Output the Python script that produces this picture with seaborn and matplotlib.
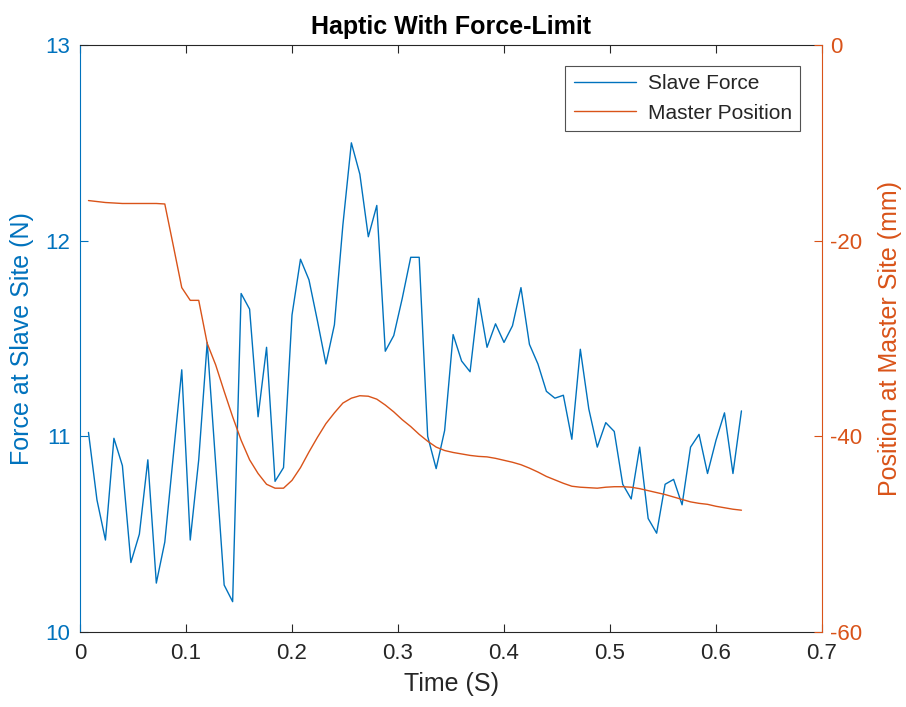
import matplotlib
matplotlib.use("Agg")
import matplotlib.pyplot as plt
import seaborn as sns
import pandas as pd

# Sample times (s)
time_s = [
    0.008, 0.016, 0.024, 0.032, 0.040, 0.048, 0.056, 0.064, 0.072, 0.080,
    0.088, 0.096, 0.104, 0.112, 0.120, 0.128, 0.136, 0.144, 0.152, 0.160,
    0.168, 0.176, 0.184, 0.192, 0.200, 0.208, 0.216, 0.224, 0.232, 0.240,
    0.248, 0.256, 0.264, 0.272, 0.280, 0.288, 0.296, 0.304, 0.312, 0.320,
    0.328, 0.336, 0.344, 0.352, 0.360, 0.368, 0.376, 0.384, 0.392, 0.400,
    0.408, 0.416, 0.424, 0.432, 0.440, 0.448, 0.456, 0.464, 0.472, 0.480,
    0.488, 0.496, 0.504, 0.512, 0.520, 0.528, 0.536, 0.544, 0.552, 0.560,
    0.568, 0.576, 0.584, 0.592, 0.600, 0.608, 0.616, 0.624,
]

# Force measured at the slave site (N)
slave_force = [
    11.02, 10.675, 10.47, 10.99, 10.85, 10.355, 10.50, 10.88, 10.25, 10.46,
    10.90, 11.34, 10.47, 10.88, 11.48, 10.86, 10.24, 10.155, 11.73, 11.65,
    11.10, 11.455, 10.77, 10.84, 11.62, 11.905, 11.80, 11.59, 11.37, 11.57,
    12.08, 12.50, 12.34, 12.02, 12.18, 11.435, 11.515, 11.705, 11.915, 11.915,
    11.00, 10.835, 11.03, 11.52, 11.385, 11.33, 11.705, 11.455, 11.575, 11.48,
    11.565, 11.76, 11.47, 11.37, 11.23, 11.195, 11.21, 10.985, 11.445, 11.14,
    10.945, 11.07, 11.025, 10.755, 10.68, 10.945, 10.58, 10.505, 10.755, 10.78,
    10.65, 10.945, 11.01, 10.81, 10.98, 11.12, 10.81, 11.13,
]

# Position of the master device (mm)
master_position = [
    -15.9, -16.0, -16.1, -16.15, -16.2, -16.2, -16.2, -16.2, -16.2, -16.25,
    -20.5, -24.8, -26.1, -26.1, -30.5, -32.7, -35.4, -38.0, -40.4, -42.4,
    -43.8, -44.9, -45.3, -45.3, -44.5, -43.2, -41.6, -40.1, -38.7, -37.6,
    -36.6, -36.1, -35.85, -35.9, -36.2, -36.8, -37.5, -38.3, -39.0, -39.8,
    -40.5, -41.1, -41.45, -41.65, -41.8, -41.95, -42.05, -42.1, -42.25, -42.45,
    -42.65, -42.9, -43.25, -43.65, -44.1, -44.45, -44.8, -45.1, -45.2, -45.25,
    -45.3, -45.2, -45.15, -45.15, -45.2, -45.35, -45.55, -45.75, -45.95, -46.2,
    -46.45, -46.7, -46.85, -46.95, -47.15, -47.3, -47.45, -47.55,
]

x_ticks = [0, 0.1, 0.2, 0.3, 0.4, 0.5, 0.6, 0.7]
x_tick_labels = ["0", "0.1", "0.2", "0.3", "0.4", "0.5", "0.6", "0.7"]
force_ticks = [10, 11, 12, 13]
position_ticks = [-60, -40, -20, 0]

BLUE = "#0072BD"
ORANGE = "#D95319"
DARK = "#262626"

sns.set_style("white")
plt.rcParams["font.family"] = ["Liberation Sans", "DejaVu Sans"]
plt.rcParams["axes.unicode_minus"] = False

df = pd.DataFrame({"t": time_s, "force": slave_force, "pos": master_position})

fig = plt.figure(figsize=(9.06, 7.07), dpi=100)
ax = fig.add_axes([80 / 906, 1 - 632 / 707, 742 / 906, 587 / 707])
ax2 = ax.twinx()

sns.lineplot(data=df, x="t", y="force", ax=ax, color=BLUE, linewidth=1.0,
             label="Slave Force", legend=False)
sns.lineplot(data=df, x="t", y="pos", ax=ax2, color=ORANGE, linewidth=1.0,
             label="Master Position", legend=False)

ax.set_xlim(0, 0.7)
ax.set_ylim(10, 13)
ax2.set_ylim(-60, 0)
ax.set_xticks(x_ticks)
ax.set_xticklabels(x_tick_labels)
ax.set_yticks(force_ticks)
ax2.set_yticks(position_ticks)

tick_fs = 16
label_fs = 18
ax.tick_params(axis="x", direction="in", top=True, bottom=True, length=6,
               width=0.8, color=DARK, labelcolor=DARK, labelsize=tick_fs, pad=8)
ax.tick_params(axis="y", direction="in", left=True, right=False, length=6,
               width=0.8, color=BLUE, labelcolor=BLUE, labelsize=tick_fs, pad=7)
ax2.tick_params(axis="y", direction="in", right=True, left=False, length=6,
                width=0.8, color=ORANGE, labelcolor=ORANGE, labelsize=tick_fs, pad=6)
ax2.tick_params(axis="x", top=False, bottom=False)

for name, sp in ax.spines.items():
    sp.set_linewidth(0.8)
    sp.set_visible(True)
ax.spines["left"].set_color(BLUE)
ax.spines["bottom"].set_color(DARK)
ax.spines["top"].set_color(DARK)
ax.spines["right"].set_visible(False)
for name, sp in ax2.spines.items():
    sp.set_visible(name == "right")
ax2.spines["right"].set_color(ORANGE)
ax2.spines["right"].set_linewidth(0.8)

ax.set_xlabel("Time (S)", fontsize=label_fs, color=DARK, labelpad=6)
ax.set_ylabel("Force at Slave Site (N)", fontsize=label_fs, color=BLUE, labelpad=8)
ax2.set_ylabel("Position at Master Site (mm)", fontsize=label_fs, color=ORANGE, labelpad=11)
ax.set_title("Haptic With Force-Limit", fontsize=18, fontweight="bold",
             color="black", pad=8)
ax.grid(False)
ax2.grid(False)

h1, l1 = ax.get_legend_handles_labels()
h2, l2 = ax2.get_legend_handles_labels()
leg = ax2.legend(h1 + h2, l1 + l2, loc="upper right",
                 bbox_to_anchor=(720 / 742, (632 - 66) / 587),
                 borderaxespad=0, fontsize=15, frameon=True, fancybox=False,
                 edgecolor=DARK, handlelength=3.0, handletextpad=0.55,
                 labelspacing=0.5, borderpad=0.4)
leg.get_frame().set_linewidth(0.8)

fig.savefig("out.png", dpi=100)
